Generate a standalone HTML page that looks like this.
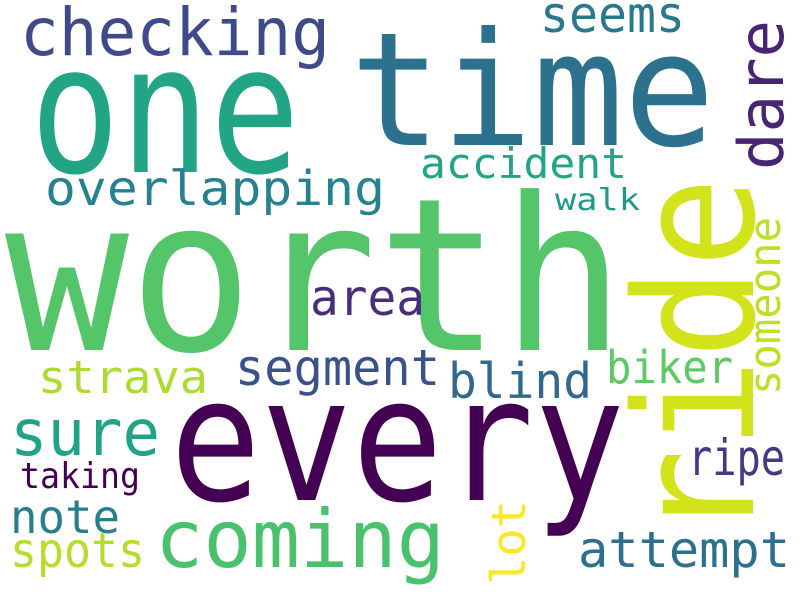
<!DOCTYPE html>
<html><head><meta charset="utf-8"><style>
html,body{margin:0;padding:0;background:#fff}
svg{display:block}
text{font-family:"DejaVu Sans Mono","Liberation Mono",monospace}
</style></head><body>
<svg id="cloud" width="800" height="600" viewBox="0 0 800 600" xmlns="http://www.w3.org/2000/svg">
<rect width="800" height="600" fill="#fff"/>
</svg>
<script>
const words = ["worth","every","one","time","ride","checking","dare","seems","accident","overlapping","walk","area","segment","strava","blind","biker","someone","sure","ripe","taking","note","coming","lot","attempt","spots"];
const sizes = [213,172,178,158,165,66,62,50,42,48,30,50,50,45,49,45,44,64,50,36,46,80,47,50,48];
const colors = ["#54c568","#440154","#21a585","#2c728e","#d2e21b","#3e4a89","#482475","#2a788e","#21a585","#26828e","#1f9a8a","#472d7b","#3b518b","#addc30","#31688e","#5ec962","#bddf26","#20a386","#443983","#440154","#277f8e","#4ac16d","#fde725","#2d708e","#b5de2b"];
const xs = [5,170,30,350,753,20,783,540,420,45,555,310,235,38,448,606,780,10,688,20,10,155,525,578,10];
const ys = [350,500,172,145,540,55,170,32,178,205,210,315,385,393,398,383,395,455,475,488,533,567,585,567,567];
const lens = [620,455,270,365,363,310,150,145,207,340,85,115,205,170,144,127,178,150,97,120,110,290,85,212,135];
const vertical = [0,0,0,0,1,0,1,0,0,0,0,0,0,0,0,0,1,0,0,0,0,0,1,0,0];
const svg = document.getElementById('cloud');
const NS = "http://www.w3.org/2000/svg";
words.forEach((w,i)=>{
  const t = document.createElementNS(NS,'text');
  t.textContent = w;
  t.setAttribute('font-size', sizes[i]);
  t.setAttribute('fill', colors[i]);
  t.setAttribute('textLength', lens[i]);
  t.setAttribute('lengthAdjust', 'spacingAndGlyphs');
  if (vertical[i]) {
    t.setAttribute('x', 0); t.setAttribute('y', 0);
    t.setAttribute('transform', 'translate(' + xs[i] + ',' + ys[i] + ') rotate(-90)');
  } else {
    t.setAttribute('x', xs[i]); t.setAttribute('y', ys[i]);
  }
  
  
  svg.appendChild(t);
});
</script>
</body></html>
